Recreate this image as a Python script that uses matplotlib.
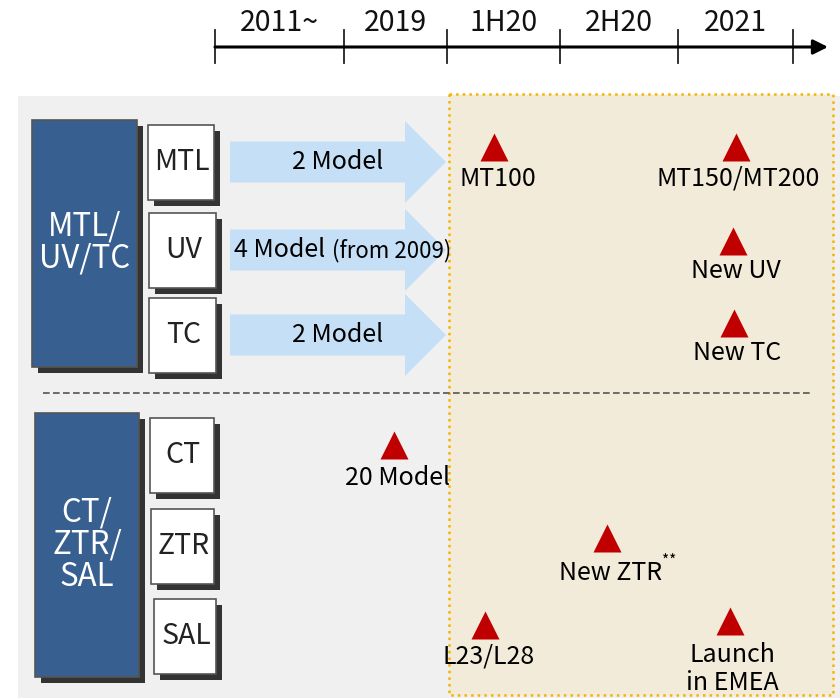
import numpy as np
import matplotlib.pyplot as plt
from matplotlib.patches import Rectangle, FancyArrow

# ---- data ----
periods = ['2011~', '2019', '1H20', '2H20', '2021']
groups = ['MTL/\nUV/TC', 'CT/\nZTR/\nSAL']
products = ['MTL', 'UV', 'TC', 'CT', 'ZTR', 'SAL']
arrow_text = ['2 Model', '4 Model', '2 Model']
arrow_note = ['', '(from 2009)', '']
ms_labels = ['MT100', 'MT150/MT200', 'New UV', 'New TC',
             '20 Model', 'New ZTR', 'L23/L28', 'Launch\nin EMEA']
ms_time = [2.42, 4.50, 4.48, 4.49, 1.49, 3.40, 2.34, 4.45]   # position on timeline (period units)
ms_row = [0, 0, 1, 2, 3, 4, 5, 5]

# ---- layout (pixel space) ----
W, H = 840, 698
tick_x = [215, 344, 447, 560, 678, 793]
row_y = [162, 250, 335, 455, 546, 636]
tri_dy = [-15, -15, -9, -12, -10, -8, -11, -15]
lab_dy = [17, 17, 21, 18, 23, 27, 21, 33]

FONT = ['Noto Sans CJK KR', 'DejaVu Sans']
plt.rcParams['font.family'] = FONT
plt.rcParams['font.weight'] = 'medium'

fig = plt.figure(figsize=(W / 100, H / 100), dpi=100)
ax = fig.add_axes([0, 0, 1, 1])
ax.set_xlim(0, W)
ax.set_ylim(H, 0)
ax.axis('off')


def t2x(t):
  return np.interp(t, np.arange(len(tick_x)), tick_x)


def box(x0, y0, x1, y1, fc, shadow=6, ec='#555555'):
  ax.add_patch(Rectangle((x0 + shadow, y0 + shadow), x1 - x0, y1 - y0, fc='#333333', ec='none', zorder=3))
  ax.add_patch(Rectangle((x0, y0), x1 - x0, y1 - y0, fc=fc, ec=ec, lw=1.2, zorder=4))


# backgrounds
ax.add_patch(Rectangle((18, 96), W - 18, H - 96, fc='#f0f0f0', ec='none', zorder=0))
ax.add_patch(Rectangle((449, 94), 384, 601, fc='#f3ebd9', ec='#f5b400', lw=1.8, ls=':', zorder=1))
ax.plot([43, 810], [393, 393], ls='--', color='#555555', lw=1.2, dashes=(4, 2), zorder=2)

# timeline
ax.annotate('', xy=(828, 47), xytext=(215, 47),
            arrowprops=dict(arrowstyle='-|>', lw=2.2, color='black', mutation_scale=22, shrinkA=0, shrinkB=0))
for x in tick_x:
  ax.plot([x, x], [30, 63], color='#222222', lw=1.3)
for i, p in enumerate(periods):
  ax.text((tick_x[i] + tick_x[i + 1]) / 2, 23, p, ha='center', va='center', fontsize=20.5, color='#111111')

# group boxes
box(32, 120, 137, 367, '#375f8f', shadow=6)
box(35, 413, 139, 677, '#375f8f', shadow=6)
ax.text(85, 243, groups[0], ha='center', va='center', color='white', fontsize=22.5, linespacing=1.0, zorder=5)
ax.text(87, 545, groups[1], ha='center', va='center', color='white', fontsize=22.5, linespacing=1.0, zorder=5)

# product boxes
prod_x = [(148, 214), (149, 216), (149, 216), (150, 214), (151, 214), (154, 216)]
for i, p in enumerate(products):
  x0, x1 = prod_x[i]
  y = row_y[i]
  box(x0, y - 37, x1, y + 38, 'white', shadow=6)
  ax.text((x0 + x1) / 2 + 1, y, p, ha='center', va='center', fontsize=20.5, color='#222222', zorder=5)

# arrows (2011~ -> 1H20)
for i in range(3):
  y = row_y[i]
  ax.add_patch(FancyArrow(230, y, t2x(2) - 1 - 230, 0, width=41, head_width=82, head_length=41,
                          length_includes_head=True, fc='#c5dff6', ec='none', zorder=2))
  if arrow_note[i]:
    ax.text(234, y, arrow_text[i], ha='left', va='center', fontsize=18, zorder=5)
    ax.text(332, y + 1, arrow_note[i], ha='left', va='center', fontsize=16, zorder=5)
  else:
    ax.text(338, y, arrow_text[i], ha='center', va='center', fontsize=18, zorder=5)

# milestones
for i, lab in enumerate(ms_labels):
  x = t2x(ms_time[i])
  y = row_y[ms_row[i]]
  ax.plot(x, y + tri_dy[i], marker='^', ms=19.5, color='#c00000', mec='none', zorder=5)
  lx = x + 3
  ax.text(lx, y + lab_dy[i], lab, ha='center', va='center', fontsize=18, linespacing=1.05, zorder=5)
  if lab == 'New ZTR':
    ax.text(lx + 52, y + lab_dy[i] - 12, '**', ha='left', va='center', fontsize=11, zorder=5)

fig.savefig('out.png', dpi=100)
